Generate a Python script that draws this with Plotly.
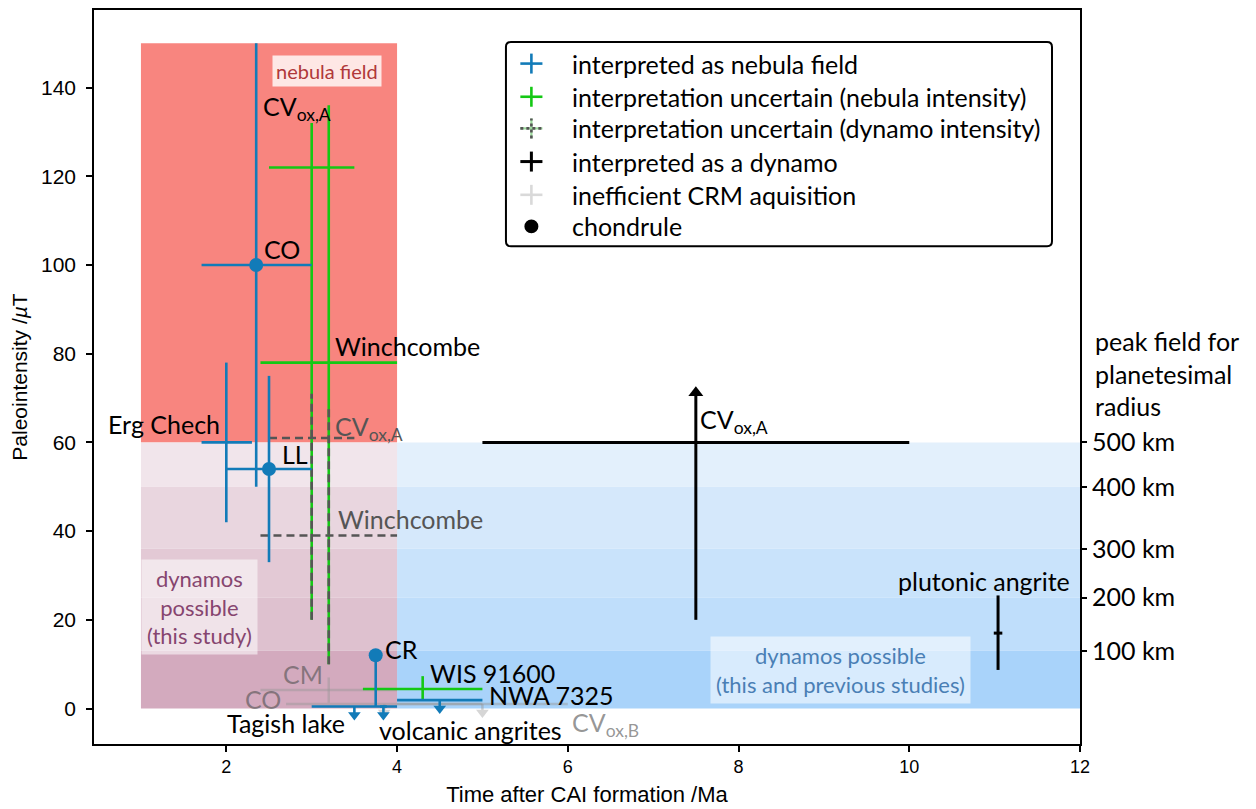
import plotly.graph_objects as go

# ---------------- data ----------------
# interpreted as nebula field (blue)
NEB_NAMES = ["CO", "Erg Chech", "LL", "CR"]
NEB_T = [2.35, 2.0, 2.5, 3.75]
NEB_T_LO = [1.71, 1.71, 2.0, 3.75]
NEB_T_HI = [3.0, 2.3, 3.0, 3.75]
NEB_B = [100, 60, 54, 12]
NEB_B_LO = [50, 42, 33, 0.45]
NEB_B_HI = [150, 78, 75, 12]
NEB_CHONDRULE = [True, False, True, True]

# interpreted as nebula field, upper limits (blue)
NEB_UL_NAMES = ["Tagish lake", "volcanic angrites", "NWA 7325"]
NEB_UL_T = [3.5, 3.84, 4.5]
NEB_UL_T_LO = [3.0, 3.8, 4.0]
NEB_UL_T_HI = [4.0, 3.88, 5.0]
NEB_UL_B = [0.45, 0.45, 1.9]

# interpretation uncertain, nebula intensity (green)
UNC_NEB_NAMES = ["CV<sub>ox,A</sub>", "Winchcombe", "WIS 91600"]
UNC_NEB_T = [3.0, 3.2, 4.3]
UNC_NEB_T_LO = [2.5, 2.4, 3.6]
UNC_NEB_T_HI = [3.5, 4.0, 5.0]
UNC_NEB_B = [122, 78, 4.4]
UNC_NEB_B_LO = [20, 10, 2.0]
UNC_NEB_B_HI = [132, 136, 7.3]

# interpretation uncertain, dynamo intensity (dashed grey)
UNC_DYN_NAMES = ["CV<sub>ox,A</sub>", "Winchcombe"]
UNC_DYN_T = [3.0, 3.2]
UNC_DYN_T_LO = [2.5, 2.4]
UNC_DYN_T_HI = [3.5, 4.0]
UNC_DYN_B = [61, 39]
UNC_DYN_B_LO = [20, 10]
UNC_DYN_B_HI = [71, 68]

# interpreted as a dynamo (black)
DYN_NAMES = ["CV<sub>ox,A</sub>", "plutonic angrite"]
DYN_T = [7.5, 11.04]
DYN_T_LO = [5.0, 10.99]
DYN_T_HI = [10.0, 11.09]
DYN_B = [60, 17]
DYN_B_LO = [20, 8.7]
DYN_B_HI = [72.5, 25.5]
DYN_LOWER_LIMIT = [True, False]

# inefficient CRM acquisition (light grey)
CRM_NAMES = ["CM", "CO", "CV<sub>ox,B</sub>"]
CRM_T = [3.2, 3.85, 5.0]
CRM_T_LO = [2.4, 2.7, 4.0]
CRM_T_HI = [4.0, 5.0, 6.0]
CRM_B = [4.2, 1.0, 1.0]
CRM_B_LO = [1.3, None, None]
CRM_B_HI = [7.0, None, None]
CRM_UPPER_LIMIT = [False, True, True]

# regions
NEBULA_T_RANGE = [1, 4]
NEBULA_B_RANGE = [60, 150]
THIS_STUDY_T_RANGE = [1, 4]
PREVIOUS_T_RANGE = [4, 12]
RADIUS_KM = [500, 400, 300, 200, 100]
RADIUS_FIELD = [60, 50, 36, 25, 13]

X_TICKS = [2, 4, 6, 8, 10, 12]
Y_TICKS = [0, 20, 40, 60, 80, 100, 120, 140]
X_RANGE = [0.45, 12.0]
Y_RANGE = [-8, 157.5]

LEGEND_LABELS = [
    "interpreted as nebula field",
    "interpretation uncertain (nebula intensity)",
    "interpretation uncertain (dynamo intensity)",
    "interpreted as a dynamo",
    "inefficient CRM aquisition",
    "chondrule",
]

# ---------------- styles ----------------
BLUE = "#127bb8"
GREEN = "#14c814"
DGREY = "#555555"
LGREY = "rgba(150,150,150,0.45)"
LGREY_TXT = "rgba(80,80,80,0.6)"
BLACK = "#000000"
LABEL_FONT = "Lato, 'Open Sans', sans-serif"
AX_FONT = "Liberation Sans, Arial, sans-serif"
LABEL_SIZE = 25
BLUE_BANDS = ["#e3f0fc", "#d5e8fb", "#c9e3fb", "#bfdefb", "#a9d3fa"]
PINK_BANDS = ["#f1e5eb", "#e9d6df", "#e3c9d5", "#dec1cf", "#d3aabe"]
NEBULA_COLOR = "#f8857f"
ARROW_LEN = 3.0      # length of upper-limit arrows (data units)
HEAD_OFF = 1.1       # arrow head centre offset (data units)


def cross(ts, tlos, this, bs, blos, bhis):
    xs, ys = [], []
    for t, tl, th, b, bl, bh in zip(ts, tlos, this, bs, blos, bhis):
        if tl is not None and th is not None and tl != th:
            xs += [tl, th, None]
            ys += [b, b, None]
        if bl is not None and bh is not None and bl != bh:
            xs += [t, t, None]
            ys += [bl, bh, None]
    return xs, ys


fig = go.Figure()

# ---- background regions ----
shapes = []
shapes.append(dict(type="rect", xref="x", yref="y", layer="below",
                   x0=NEBULA_T_RANGE[0], x1=NEBULA_T_RANGE[1],
                   y0=NEBULA_B_RANGE[0], y1=NEBULA_B_RANGE[1],
                   fillcolor=NEBULA_COLOR, line=dict(width=0)))
levels = RADIUS_FIELD + [0]
for i in range(len(RADIUS_FIELD)):
    top, bot = levels[i], levels[i + 1]
    shapes.append(dict(type="rect", xref="x", yref="y", layer="below",
                       x0=PREVIOUS_T_RANGE[0], x1=PREVIOUS_T_RANGE[1], y0=bot, y1=top,
                       fillcolor=BLUE_BANDS[i], line=dict(width=0)))
    shapes.append(dict(type="rect", xref="x", yref="y", layer="below",
                       x0=THIS_STUDY_T_RANGE[0], x1=THIS_STUDY_T_RANGE[1], y0=bot, y1=top,
                       fillcolor=PINK_BANDS[i], line=dict(width=0)))

# ---- inefficient CRM (light grey) ----
xs, ys = cross(CRM_T, CRM_T_LO, CRM_T_HI, CRM_B, CRM_B_LO, CRM_B_HI)
hx, hy = [], []
for t, b, ul in zip(CRM_T, CRM_B, CRM_UPPER_LIMIT):
    if ul:
        xs += [t, t, None]
        ys += [b, b - ARROW_LEN + HEAD_OFF, None]
        hx.append(t)
        hy.append(b - ARROW_LEN + HEAD_OFF)
fig.add_trace(go.Scatter(x=xs, y=ys, mode="lines", line=dict(color=LGREY, width=2.5),
                         hoverinfo="skip", showlegend=False))
fig.add_trace(go.Scatter(x=hx, y=hy, mode="markers",
                         marker=dict(symbol="triangle-down", size=11, color="#d6d6d6"),
                         hoverinfo="skip", showlegend=False))

# ---- green ----
xs, ys = cross(UNC_NEB_T, UNC_NEB_T_LO, UNC_NEB_T_HI, UNC_NEB_B, UNC_NEB_B_LO, UNC_NEB_B_HI)
fig.add_trace(go.Scatter(x=xs, y=ys, mode="lines", line=dict(color=GREEN, width=2.6),
                         hoverinfo="skip", showlegend=False))

# ---- dashed grey ----
xs, ys = cross(UNC_DYN_T, UNC_DYN_T_LO, UNC_DYN_T_HI, UNC_DYN_B, UNC_DYN_B_LO, UNC_DYN_B_HI)
fig.add_trace(go.Scatter(x=xs, y=ys, mode="lines",
                         line=dict(color=DGREY, width=2.6, dash="8px,5px"),
                         hoverinfo="skip", showlegend=False))

# ---- blue ----
xs, ys = cross(NEB_T, NEB_T_LO, NEB_T_HI, NEB_B, NEB_B_LO, NEB_B_HI)
hx, hy = [], []
for t, tl, th, b in zip(NEB_UL_T, NEB_UL_T_LO, NEB_UL_T_HI, NEB_UL_B):
    xs += [tl, th, None, t, t, None]
    ys += [b, b, None, b, b - ARROW_LEN + HEAD_OFF, None]
    hx.append(t)
    hy.append(b - ARROW_LEN + HEAD_OFF)
fig.add_trace(go.Scatter(x=xs, y=ys, mode="lines", line=dict(color=BLUE, width=2.6),
                         hoverinfo="skip", showlegend=False))
fig.add_trace(go.Scatter(x=hx, y=hy, mode="markers",
                         marker=dict(symbol="triangle-down", size=11, color=BLUE),
                         hoverinfo="skip", showlegend=False))
fig.add_trace(go.Scatter(x=[t for t, c in zip(NEB_T, NEB_CHONDRULE) if c],
                         y=[b for b, c in zip(NEB_B, NEB_CHONDRULE) if c],
                         mode="markers", marker=dict(symbol="circle", size=14, color=BLUE),
                         hoverinfo="skip", showlegend=False))

# ---- black ----
xs, ys, hx, hy = [], [], [], []
for t, tl, th, b, bl, bh, ll in zip(DYN_T, DYN_T_LO, DYN_T_HI, DYN_B, DYN_B_LO, DYN_B_HI,
                                    DYN_LOWER_LIMIT):
    xs += [tl, th, None]
    ys += [b, b, None]
    if ll:
        xs += [t, t, None]
        ys += [bl, bh - HEAD_OFF * 1.2, None]
        hx.append(t)
        hy.append(bh - HEAD_OFF * 1.2)
    else:
        xs += [t, t, None]
        ys += [bl, bh, None]
fig.add_trace(go.Scatter(x=xs, y=ys, mode="lines", line=dict(color=BLACK, width=3),
                         hoverinfo="skip", showlegend=False))
fig.add_trace(go.Scatter(x=hx, y=hy, mode="markers",
                         marker=dict(symbol="triangle-up", size=13, color=BLACK),
                         hoverinfo="skip", showlegend=False))

# invisible trace for the right axis
fig.add_trace(go.Scatter(x=[X_RANGE[1]], y=[RADIUS_FIELD[0]], yaxis="y2", mode="markers",
                         marker=dict(opacity=0), hoverinfo="skip", showlegend=False))

# ---- labels ----
annotations = []


def lab(text, x, y, xanchor, xshift, yshift, color=BLACK, size=LABEL_SIZE):
    annotations.append(dict(text=text, x=x, y=y, xref="x", yref="y", showarrow=False,
                            xanchor=xanchor, yanchor="middle", xshift=xshift, yshift=yshift,
                            font=dict(family=LABEL_FONT, size=size, color=color)))


lab(NEB_NAMES[0], NEB_T[0], NEB_B[0], "left", 6, 16)
lab(NEB_NAMES[1], NEB_T[1], NEB_B[1], "right", -4, 18)
lab(NEB_NAMES[2], NEB_T[2], NEB_B[2], "left", 11, 15)
lab(NEB_NAMES[3], NEB_T[3], NEB_B[3], "left", 7, 6)
lab(NEB_UL_NAMES[0], NEB_UL_T[0], NEB_UL_B[0], "right", -7, -16)
lab(NEB_UL_NAMES[1], NEB_UL_T[1], NEB_UL_B[1], "left", -6, -23)
lab(NEB_UL_NAMES[2], NEB_UL_T_HI[2], NEB_UL_B[2], "left", 5, 5)
lab(UNC_NEB_NAMES[0], UNC_NEB_T[0], UNC_NEB_B[0], "left", -51, 59)
lab(UNC_NEB_NAMES[1], UNC_NEB_T[1], UNC_NEB_B[1], "left", 4, 17)
lab(UNC_NEB_NAMES[2], UNC_NEB_T[2], UNC_NEB_B[2], "left", 5, 16)
lab(UNC_DYN_NAMES[0], UNC_DYN_T[0], UNC_DYN_B[0], "left", 21, 10, DGREY)
lab(UNC_DYN_NAMES[1], UNC_DYN_T[1], UNC_DYN_B[1], "left", 7, 17, DGREY)
lab(DYN_NAMES[0], DYN_T[0], DYN_B[0], "left", 2, 21)
lab(DYN_NAMES[1], DYN_T[1], DYN_B[1], "center", -14, 52)
lab(CRM_NAMES[0], CRM_T[0], CRM_B[0], "right", -4, 16, LGREY_TXT)
lab(CRM_NAMES[1], CRM_T_LO[1], CRM_B[1], "right", -3, 5, LGREY_TXT)
lab(CRM_NAMES[2], CRM_T[2], CRM_B[2], "left", 88, -20, LGREY_TXT)

# region text boxes
annotations.append(dict(text="nebula field", x=3.18, y=143.8, xref="x", yref="y",
                        showarrow=False, bgcolor="rgba(255,255,255,0.8)", borderpad=3,
                        font=dict(family=LABEL_FONT, size=20, color="#b0383a")))
annotations.append(dict(text="dynamos<br>possible<br>(this study)", x=1.69, y=22.9,
                        xref="x", yref="y", showarrow=False,
                        bgcolor="rgba(255,255,255,0.55)", borderpad=5,
                        font=dict(family=LABEL_FONT, size=22, color="#86456f")))
annotations.append(dict(text="dynamos possible<br>(this and previous studies)", x=9.2, y=8.7,
                        xref="x", yref="y", showarrow=False,
                        bgcolor="rgba(255,255,255,0.55)", borderpad=5,
                        font=dict(family=LABEL_FONT, size=22, color="#4a7fb5")))

# right-axis title
annotations.append(dict(text="peak field for<br>planetesimal<br>radius", x=1.0132, y=0.5045,
                        xref="paper", yref="paper", showarrow=False, xanchor="left",
                        yanchor="middle", align="left",
                        font=dict(family=LABEL_FONT, size=LABEL_SIZE, color=BLACK)))

# ---- manual legend ----
LX0, LX1, LY0, LY1 = 0.4178, 0.9716, 0.678, 0.9565
rx, ry = 0.005, 0.0068
path = (f"M{LX0+rx},{LY0} L{LX1-rx},{LY0} Q{LX1},{LY0} {LX1},{LY0+ry} "
        f"L{LX1},{LY1-ry} Q{LX1},{LY1} {LX1-rx},{LY1} L{LX0+rx},{LY1} "
        f"Q{LX0},{LY1} {LX0},{LY1-ry} L{LX0},{LY0+ry} Q{LX0},{LY0} {LX0+rx},{LY0} Z")
shapes.append(dict(type="path", xref="paper", yref="paper", path=path,
                   fillcolor="white", line=dict(color=BLACK, width=2), layer="above"))
ENTRY_Y = [0.9270, 0.8818, 0.8387, 0.7935, 0.7482, 0.7052]
SX, TX = 0.4436, 0.4824
HW, HH = 0.0112, 0.0136


def leg_cross(yc, color, width=2.6, dash=None):
    for (x0, x1, y0, y1) in [(SX - HW, SX + HW, yc, yc), (SX, SX, yc - HH, yc + HH)]:
        ln = dict(color=color, width=width)
        if dash:
            ln["dash"] = dash
        shapes.append(dict(type="line", xref="paper", yref="paper", x0=x0, x1=x1,
                           y0=y0, y1=y1, line=ln, layer="above"))


leg_cross(ENTRY_Y[0], BLUE)
leg_cross(ENTRY_Y[1], GREEN)
leg_cross(ENTRY_Y[2], "#9bd99b", 2.2)
leg_cross(ENTRY_Y[2], DGREY, 2.6, "3px,3px")
leg_cross(ENTRY_Y[3], BLACK, 3)
leg_cross(ENTRY_Y[4], "#d9d9d9")
shapes.append(dict(type="circle", xref="paper", yref="paper",
                   x0=SX - 0.0071, x1=SX + 0.0071,
                   y0=ENTRY_Y[5] - 0.0095, y1=ENTRY_Y[5] + 0.0095,
                   fillcolor=BLACK, line=dict(width=0), layer="above"))
for yc, txt in zip(ENTRY_Y, LEGEND_LABELS):
    annotations.append(dict(text=txt, x=TX, y=yc, xref="paper", yref="paper",
                            showarrow=False, xanchor="left", yanchor="middle",
                            font=dict(family=LABEL_FONT, size=LABEL_SIZE, color=BLACK)))

fig.update_layout(
    width=1248, height=801,
    margin=dict(l=86, r=176, t=0, b=65),
    paper_bgcolor="white", plot_bgcolor="white",
    showlegend=False,
    shapes=shapes,
    annotations=annotations,
    xaxis=dict(range=X_RANGE, tickvals=X_TICKS, ticks="outside", ticklen=6, tickwidth=1.5,
               tickcolor=BLACK, showline=True, linecolor=BLACK, linewidth=1.5, mirror=True,
               showgrid=False, zeroline=False,
               tickfont=dict(family=AX_FONT, size=18, color=BLACK),
               title=dict(text="Time after CAI formation /Ma", standoff=10,
                          font=dict(family=AX_FONT, size=22, color=BLACK))),
    yaxis=dict(range=Y_RANGE, tickvals=Y_TICKS, ticks="outside", ticklen=6, tickwidth=1.5,
               tickcolor=BLACK, showline=True, linecolor=BLACK, linewidth=1.5, mirror=True,
               showgrid=False, zeroline=False, ticklabelstandoff=6,
               tickfont=dict(family=AX_FONT, size=21, color=BLACK),
               title=dict(text="Paleointensity /<i>µ</i>T", standoff=12,
                          font=dict(family=AX_FONT, size=21, color=BLACK))),
    yaxis2=dict(range=Y_RANGE, overlaying="y", side="right", tickvals=RADIUS_FIELD,
                ticktext=[f"{r} km" for r in RADIUS_KM], ticks="outside", ticklen=6,
                tickwidth=1.5, tickcolor=BLACK, showline=False, showgrid=False,
                zeroline=False, tickfont=dict(family=LABEL_FONT, size=LABEL_SIZE, color=BLACK)),
)

fig.write_html("out.html")
